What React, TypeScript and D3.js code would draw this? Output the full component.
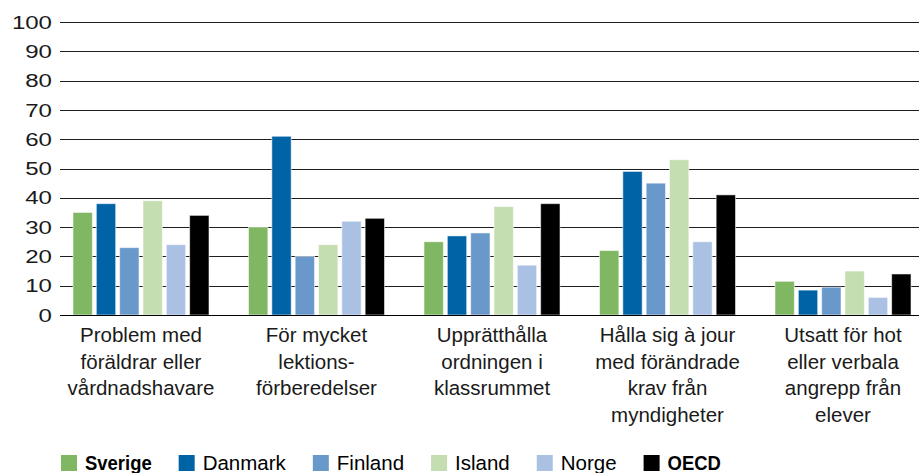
import React from "react";
import * as d3 from "d3";

const categoryLines: string[][] = [
  ["Problem med", "föräldrar eller", "vårdnadshavare"],
  ["För mycket", "lektions-", "förberedelser"],
  ["Upprätthålla", "ordningen i", "klassrummet"],
  ["Hålla sig à jour", "med förändrade", "krav från", "myndigheter"],
  ["Utsatt för hot", "eller verbala", "angrepp från", "elever"],
];
const seriesNames = ["Sverige", "Danmark", "Finland", "Island", "Norge", "OECD"];
const seriesColors = ["#7fb763", "#0063a6", "#6999cb", "#c5deb1", "#aac1e3", "#000000"];
const boldSeries = ["Sverige", "OECD"];
const sverige = [35, 30, 25, 22, 11.5];
const danmark = [38, 61, 27, 49, 8.5];
const finland = [23, 20, 28, 45, 9.5];
const island = [39, 24, 37, 53, 15];
const norge = [24, 32, 17, 25, 6];
const oecd = [34, 33, 38, 41, 14];
const seriesValues = [sverige, danmark, finland, island, norge, oecd];
const yTicks = [0, 10, 20, 30, 40, 50, 60, 70, 80, 90, 100];

const W = 919;
const H = 473;
const FONT = "'Liberation Sans', Arial, sans-serif";

function measure(text: string, font: string): number {
  if (typeof document === "undefined") return text.length * 10;
  const c = document.createElement("canvas");
  const ctx = c.getContext("2d");
  if (!ctx) return text.length * 10;
  ctx.font = font;
  return ctx.measureText(text).width;
}

export default function App() {
  const y = d3.scaleLinear().domain([0, 100]).range([315, 22]);
  const x0 = d3
    .scaleBand<number>()
    .domain(categoryLines.map((_, i) => i))
    .range([53.25, 930.75])
    .paddingInner(0.225)
    .paddingOuter(0.1125);
  const x1 = d3
    .scaleBand<string>()
    .domain(seriesNames)
    .range([0, x0.bandwidth()])
    .paddingInner(0.17);

  const legendFontSize = 20.5;
  const boldScale = 0.9;
  let lx = 61;
  const legendItems = seriesNames.map((name, i) => {
    const bold = boldSeries.includes(name);
    const w =
      measure(name, `${bold ? "bold " : ""}${legendFontSize}px 'Liberation Sans', Arial`) *
      (bold ? boldScale : 1);
    const item = { name, color: seriesColors[i], x: lx, bold };
    lx += 24 + w + 27;
    return item;
  });

  return (
    <div style={{ position: "fixed", left: 0, top: 0, background: "#fff" }}>
      <svg width={W} height={H} style={{ display: "block", fontFamily: FONT }}>
        <rect width={W} height={H} fill="#fff" />
        {yTicks.map((t) => (
          <g key={t}>
            <line
              x1={60}
              x2={W}
              y1={Math.round(y(t)) + 0.5}
              y2={Math.round(y(t)) + 0.5}
              stroke="#1e1e1e"
              strokeWidth={1.2}
            />
            <text
              transform={`translate(52,${y(t)}) scale(1.3,1)`}
              textAnchor="end"
              dy="0.36em"
              fontSize={18.5}
              fill="#1a1a1a"
            >
              {t}
            </text>
          </g>
        ))}
        {categoryLines.map((_, ci) => (
          <g key={ci} transform={`translate(${x0(ci)},0)`}>
            {seriesNames.map((s, si) => {
              const v = seriesValues[si][ci];
              return (
                <rect
                  key={s}
                  x={x1(s)}
                  y={y(v)}
                  width={x1.bandwidth()}
                  height={y(0) - y(v)}
                  fill={seriesColors[si]}
                  stroke="#ffffff"
                  strokeOpacity={0.55}
                  strokeWidth={1}
                />
              );
            })}
          </g>
        ))}
        <line x1={60} x2={W} y1={315.5} y2={315.5} stroke="#000" strokeWidth={1.2} />
        {categoryLines.map((lines, ci) => (
          <text
            key={ci}
            x={(x0(ci) as number) + x0.bandwidth() / 2}
            y={342}
            textAnchor="middle"
            fontSize={20.5}
            fill="#1a1a1a"
          >
            {lines.map((l, li) => (
              <tspan key={li} x={(x0(ci) as number) + x0.bandwidth() / 2} dy={li === 0 ? 0 : 26.5}>
                {l}
              </tspan>
            ))}
          </text>
        ))}
        {legendItems.map((it) => (
          <g key={it.name}>
            <rect x={it.x} y={455} width={16} height={16} fill={it.color} />
            <text
              transform={`translate(${it.x + 24},470) scale(${it.bold ? boldScale : 1},1)`}
              fontSize={legendFontSize}
              fontWeight={it.bold ? "bold" : "normal"}
              fill="#000"
            >
              {it.name}
            </text>
          </g>
        ))}
      </svg>
    </div>
  );
}
